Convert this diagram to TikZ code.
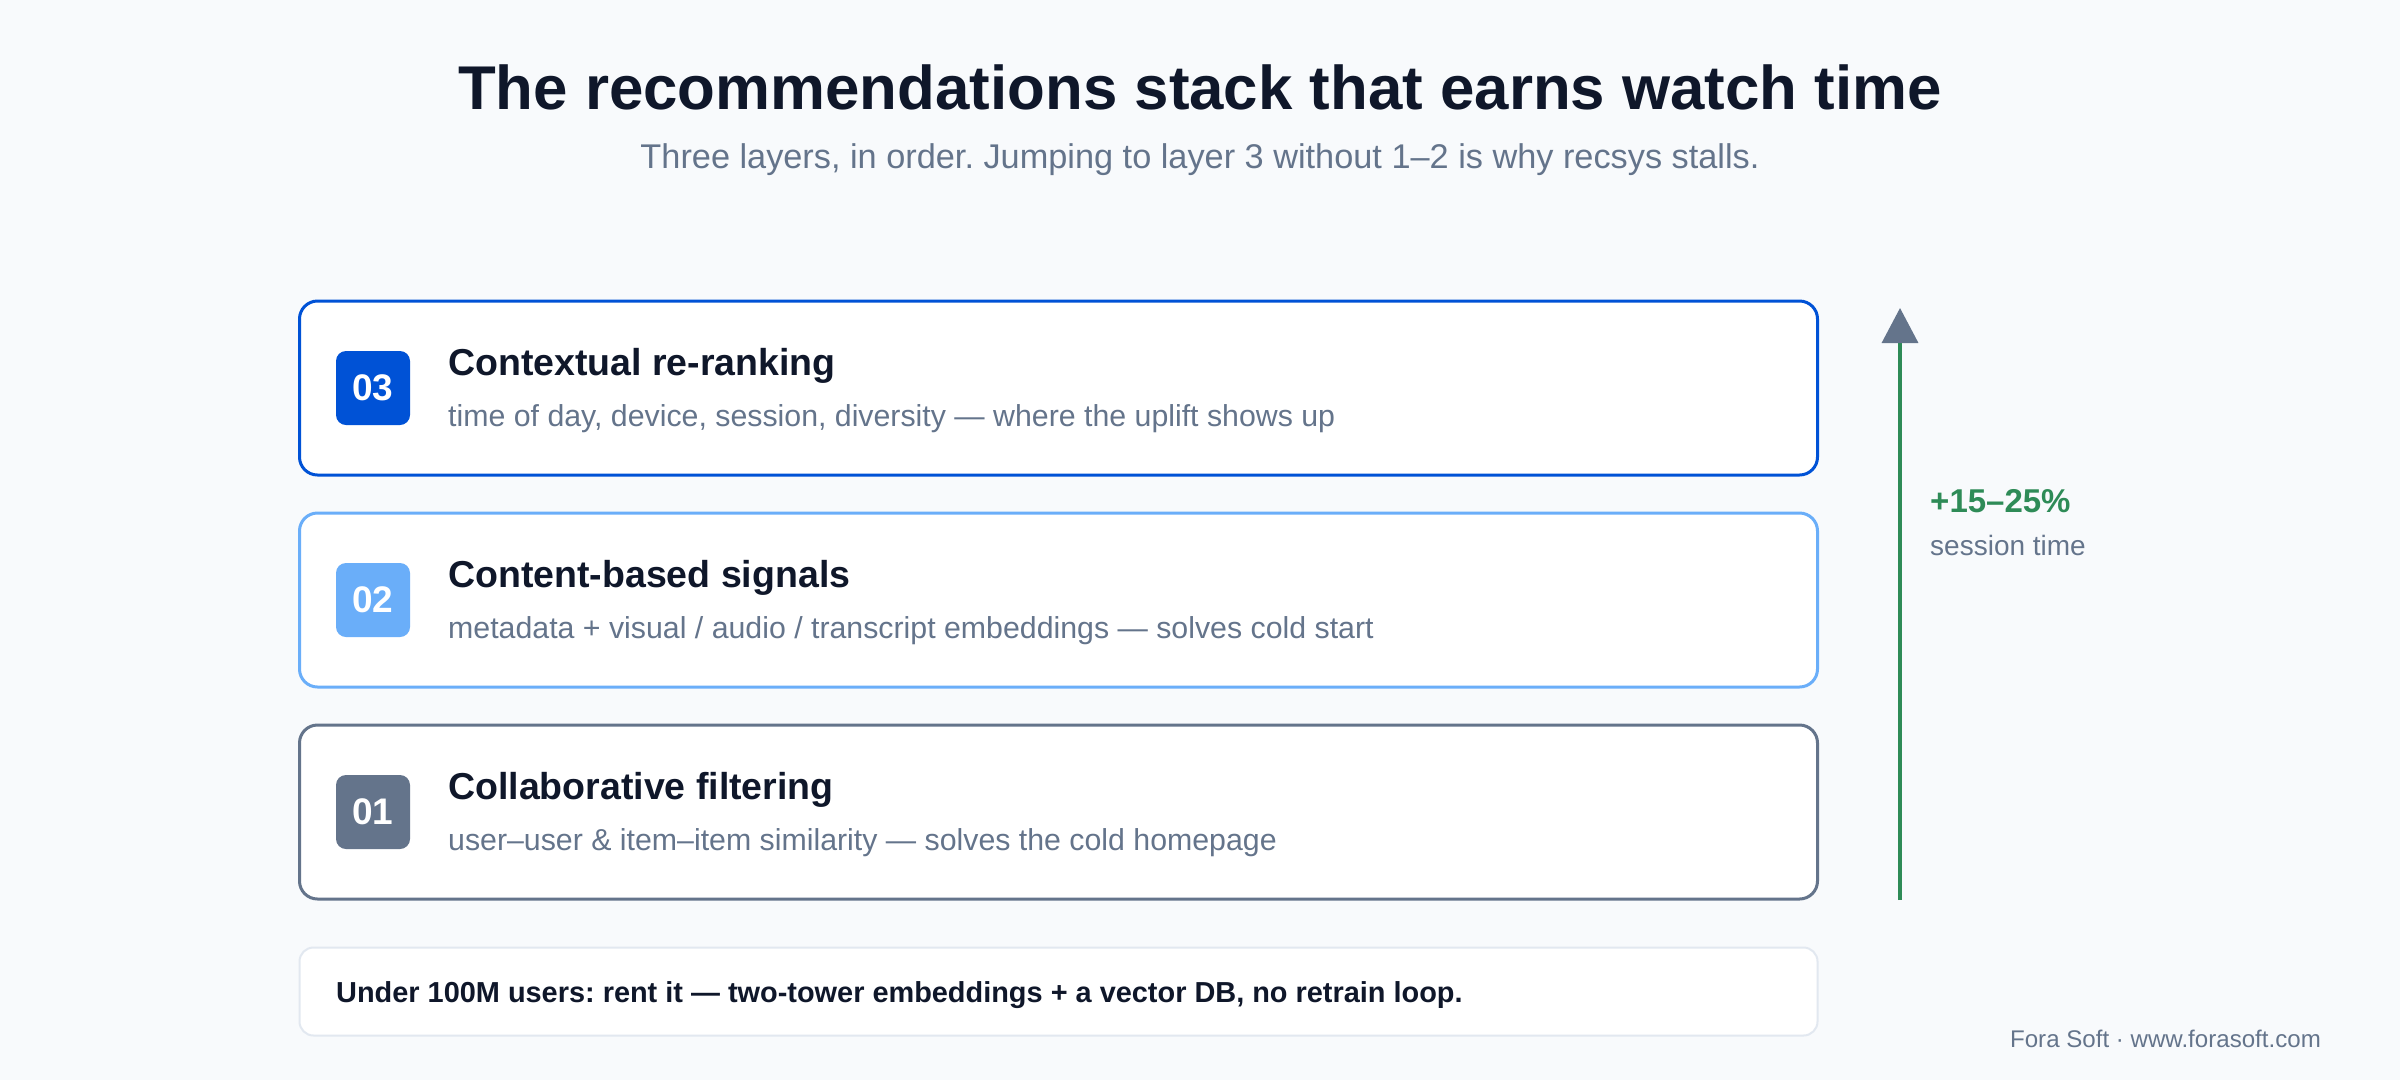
\documentclass[tikz,border=0pt]{standalone}
\usepackage{fontspec}
\setmainfont{Liberation Sans}
\frenchspacing
\usetikzlibrary{arrows.meta}
\definecolor{ink}{HTML}{0F172A}
\definecolor{slate}{HTML}{64748B}
\definecolor{paper}{HTML}{F8FAFC}
\definecolor{deep}{HTML}{0052D6}
\definecolor{sky}{HTML}{6AAEF9}
\definecolor{gain}{HTML}{2E8B57}
\definecolor{rule}{HTML}{E2E8F0}
\begin{document}
\begin{tikzpicture}[x=1pt,y=-1pt]
            \fill[paper] (0,0) rectangle (2400,1080);
            \useasboundingbox (0,0) rectangle (2400,1080);
            \tikzset{layer/.style={rectangle, rounded corners=18pt, fill=white, line width=3pt, minimum width=1518pt, minimum height=174pt},
                     badge/.style={rectangle, rounded corners=10pt, minimum size=74pt, inner sep=0pt, text=white, font=\fontsize{37}{42}\selectfont\bfseries},
                     head/.style={anchor=base west, inner sep=0pt, text=ink, font=\fontsize{37.5}{44}\selectfont\bfseries},
                     note/.style={anchor=base west, inner sep=0pt, text=slate, font=\fontsize{30.3}{36}\selectfont}}

            \node[anchor=base, inner sep=0pt, text=ink, font=\fontsize{61.8}{74}\selectfont\bfseries] (title) at (1200, 109) {The recommendations stack that earns watch time};
            \node[anchor=base, inner sep=0pt, text=slate, font=\fontsize{34.3}{40}\selectfont] (sub) at (1200, 168) {Three layers, in order. Jumping to layer 3 without 1–2 is why recsys stalls.};

            \node[layer, draw=deep] (box3) at (1058.5, 388) {};
            \node[layer, draw=sky] (box2) at (1058.5, 600) {};
            \node[layer, draw=slate] (box1) at (1058.5, 812) {};

            \node[badge, fill=deep] (b3) at (373, 388) {03};
            \node[badge, fill=sky] (b2) at (373, 600) {02};
            \node[badge, fill=slate] (b1) at (373, 812) {01};

            \node[head] (h3) at (448, 375) {Contextual re-ranking};
            \node[note] (n3) at (448, 426) {time of day, device, session, diversity — where the uplift shows up};
            \node[head] (h2) at (448, 587) {Content-based signals};
            \node[note] (n2) at (448, 638) {metadata + visual / audio / transcript embeddings — solves cold start};
            \node[head] (h1) at (448, 799) {Collaborative filtering};
            \node[note] (n1) at (448, 850) {user–user \& item–item similarity — solves the cold homepage};

            \coordinate (low) at (1900, 900);
            \coordinate (high) at (1900, 308);
            \draw[gain, line width=3.5pt, -{Triangle[width=36pt, length=35pt, color=slate, fill=slate]}] (low) -- (high);
            \node[anchor=base west, inner sep=0pt, text=gain, font=\fontsize{33}{38}\selectfont\bfseries] (lift) at (1930, 512) {+15–25\%};
            \node[anchor=base west, inner sep=0pt, text=slate, font=\fontsize{28}{33}\selectfont] (liftnote) at (1930, 555) {session time};

            \node[rectangle, rounded corners=14pt, draw=rule, fill=white, line width=2pt, minimum width=1518pt, minimum height=88pt] (tip) at (1058.5, 991.5) {};
            \node[anchor=base west, inner sep=0pt, text=ink, font=\fontsize{28.9}{34}\selectfont\bfseries] (tiptext) at (336, 1002) {Under 100M users: rent it — two-tower embeddings + a vector DB, no retrain loop.};
            \node[anchor=base east, inner sep=0pt, text=slate, font=\fontsize{24.1}{29}\selectfont] (foot) at (2321, 1047) {Fora Soft · www.forasoft.com};
\end{tikzpicture}
\end{document}
